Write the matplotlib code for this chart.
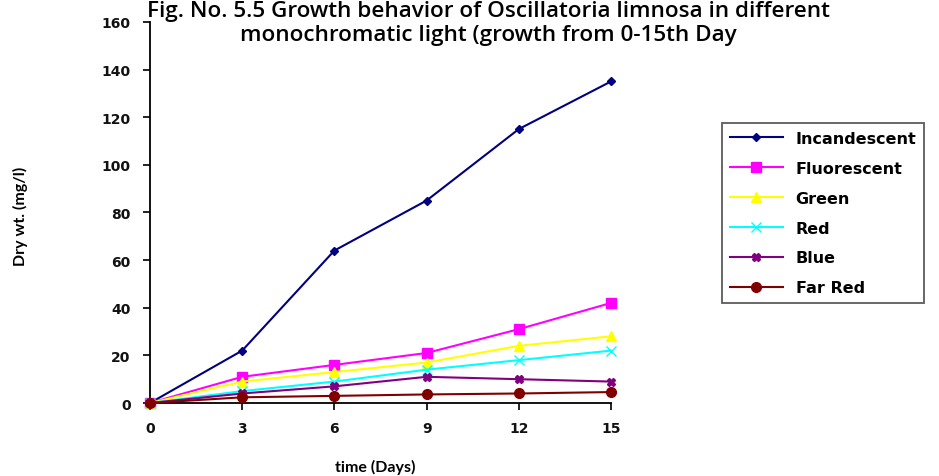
import matplotlib.pyplot as plt

days = [0, 3, 6, 9, 12, 15]

incandescent = [0, 22, 64, 85, 115, 135]
fluorescent = [0, 11, 16, 21, 31, 42]
green = [0, 9, 13, 17, 24, 28]
red = [0, 5, 9, 14, 18, 22]
blue = [0, 4, 7, 11, 10, 9]
far_red = [0, 2.4, 3, 3.6, 4, 4.6]

series = [
    ("Incandescent", incandescent, "#000080", "D", 4.5),
    ("Fluorescent", fluorescent, "#FF00FF", "s", 7.5),
    ("Green", green, "#FFFF00", "^", 7),
    ("Red", red, "#00FFFF", "x", 6.5),
    ("Blue", blue, "#800080", "X", 6),
    ("Far Red", far_red, "#800000", "o", 7),
]

plt.rcParams["font.family"] = ["Lato", "DejaVu Sans"]
tick_font = {"family": "DejaVu Sans", "weight": "bold", "size": 10}
legend_font = {"family": "DejaVu Sans", "weight": "bold", "size": 11.5}

fig = plt.figure(figsize=(9.39, 4.77), dpi=100)
ax = fig.add_axes([0.1597, 0.153, 0.491, 0.799])

for name, vals, color, marker, ms in series:
    ax.plot(days, vals, color=color, marker=marker, markersize=ms,
            linewidth=1.5, label=name, clip_on=False, zorder=3)

ax.set_xlim(0, 15)
ax.set_ylim(0, 160)
ax.set_xticks(days)
ax.set_yticks(range(0, 161, 20))
for s in ["top", "right"]:
    ax.spines[s].set_visible(False)
for s in ["left", "bottom"]:
    ax.spines[s].set_linewidth(1.3)
ax.tick_params(direction="out", length=5, width=1.3, colors="#111111")
ax.tick_params(axis="x", pad=8)
ax.tick_params(axis="y", pad=9)
for lbl in ax.get_xticklabels() + ax.get_yticklabels():
    lbl.set_fontproperties(tick_font)

fig.text(0.4, 0.021, "time (Days)", fontsize=11.5, fontweight="bold",
         ha="center", va="center")
fig.text(0.022, 0.547, "Dry wt. (mg/l)", rotation=90, fontsize=11.5,
         fontweight="bold", ha="center", va="center")

fig.text(0.52, 0.95, "Fig. No. 5.5 Growth behavior of Oscillatoria limnosa in different\n"
         "monochromatic light (growth from 0-15th Day",
         ha="center", va="center", fontsize=16.2, fontweight="semibold",
         family="Open Sans", linespacing=1.18)

leg = fig.legend(loc="upper left", bbox_to_anchor=(0.769, 0.740),
                 frameon=True, fancybox=False, edgecolor="#333333",
                 prop=legend_font, handlelength=3.3,
                 labelspacing=0.93, borderpad=0.5, borderaxespad=0,
                 handletextpad=0.8)
leg.get_frame().set_linewidth(1.3)

fig.savefig("out.png", dpi=100)
